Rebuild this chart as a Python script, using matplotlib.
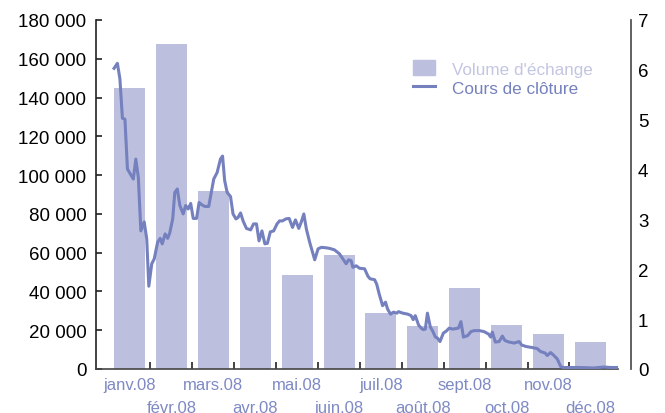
import matplotlib
matplotlib.use('Agg')
import matplotlib.pyplot as plt
import matplotlib.patches as mpatches
from matplotlib.lines import Line2D

# Donnees
mois = ['janv.08', 'févr.08', 'mars.08', 'avr.08', 'mai.08', 'juin.08',
        'juil.08', 'août.08', 'sept.08', 'oct.08', 'nov.08', 'déc.08']
volume = [145000, 167500, 92000, 63000, 48500, 59000,
          29000, 22000, 42000, 22500, 18000, 14000]

# position en mois (0 = milieu de janvier) et cours de cloture
cours_x = [-0.37, -0.29, -0.23, -0.17, -0.11, -0.05, 0.09, 0.15, 0.21, 0.27,
           0.35, 0.41, 0.46, 0.53, 0.59, 0.67, 0.73, 0.78, 0.85, 0.91,
           0.96, 1.03, 1.08, 1.14, 1.20, 1.28, 1.34, 1.40, 1.46, 1.52,
           1.60, 1.66, 1.73, 1.80, 1.89, 2.01, 2.09, 2.17, 2.22, 2.27,
           2.33, 2.41, 2.47, 2.54, 2.59, 2.65, 2.71, 2.79, 2.89, 2.96,
           3.03, 3.09, 3.16, 3.23, 3.29, 3.36, 3.44, 3.52, 3.58, 3.65,
           3.73, 3.81, 3.89, 3.96, 4.04, 4.10, 4.16, 4.22, 4.30, 4.42,
           4.50, 4.58, 4.70, 4.77, 4.89, 5.01, 5.09, 5.17, 5.23, 5.29,
           5.33, 5.41, 5.49, 5.61, 5.69, 5.74, 5.85, 5.90, 5.96, 6.04,
           6.11, 6.16, 6.23, 6.30, 6.38, 6.42, 6.52, 6.64, 6.72, 6.77,
           6.82, 6.90, 6.96, 7.01, 7.06, 7.11, 7.18, 7.23, 7.30, 7.35,
           7.41, 7.49, 7.56, 7.63, 7.71, 7.85, 7.91, 7.97, 8.07, 8.15,
           8.23, 8.35, 8.46, 8.57, 8.62, 8.66, 8.73, 8.82, 8.90, 8.96,
           9.06, 9.18, 9.30, 9.36, 9.47, 9.61, 9.73, 9.81, 9.92, 9.97,
           10.05, 10.13, 10.21, 10.29, 10.35, 10.73, 11.08, 11.32, 11.49, 11.64]
cours = [6.03, 6.13, 5.82, 5.03, 5.01, 4.01, 3.81, 4.21, 3.84, 2.77,
         2.95, 2.61, 1.66, 2.11, 2.21, 2.54, 2.62, 2.51, 2.71, 2.62,
         2.73, 3.01, 3.54, 3.61, 3.28, 3.11, 3.28, 3.21, 3.32, 3.02,
         3.02, 3.34, 3.29, 3.26, 3.26, 3.81, 3.94, 4.21, 4.27, 3.78,
         3.54, 3.46, 3.11, 3.01, 3.04, 3.13, 2.97, 2.82, 2.79, 2.91,
         2.91, 2.57, 2.77, 2.51, 2.52, 2.75, 2.77, 2.91, 2.97, 2.97,
         3.01, 3.02, 2.84, 2.99, 2.82, 2.95, 3.11, 2.81, 2.54, 2.19,
         2.41, 2.44, 2.43, 2.42, 2.39, 2.31, 2.21, 2.11, 2.19, 2.17,
         2.04, 2.07, 2.02, 2.01, 1.86, 1.81, 1.79, 1.70, 1.50, 1.27,
         1.34, 1.20, 1.10, 1.14, 1.12, 1.15, 1.12, 1.10, 1.07, 0.99,
         1.07, 0.88, 0.82, 0.79, 0.80, 1.12, 0.84, 0.77, 0.64, 0.62,
         0.55, 0.72, 0.76, 0.82, 0.80, 0.82, 0.95, 0.64, 0.67, 0.75,
         0.77, 0.77, 0.75, 0.70, 0.64, 0.74, 0.54, 0.55, 0.66, 0.57,
         0.54, 0.52, 0.55, 0.48, 0.45, 0.43, 0.41, 0.35, 0.32, 0.27,
         0.33, 0.27, 0.20, 0.05, 0.03, 0.03, 0.02, 0.04, 0.03, 0.03]

couleur_barre = '#bcc0de'
couleur_ligne = '#7580be'
couleur_mois = '#7f89c4'

plt.rcParams['font.family'] = ['Liberation Sans', 'DejaVu Sans']

fig = plt.figure(figsize=(6.65, 4.14), dpi=100)
ax = fig.add_axes([0.1444, 0.1063, 0.785, 0.843])

pos = list(range(len(mois)))
ax.bar(pos, volume, width=0.74, color=couleur_barre, zorder=1)

ax.set_xlim(-0.8, 11.66)
ax.set_ylim(0, 180000)
ax.set_yticks(range(0, 180001, 20000))
ax.set_yticklabels(['{:,}'.format(v).replace(',', ' ') for v in range(0, 180001, 20000)])
ax.tick_params(axis='y', direction='in', length=4, width=1.2, pad=7,
               labelsize=13.5, color='#222222')

# etiquettes des mois sur deux rangs : rang du haut (mois pairs)
ax.set_xticks(pos[0::2])
ax.set_xticklabels(mois[0::2])
ax.tick_params(axis='x', which='major', length=0, pad=5.5, labelsize=12,
               labelcolor=couleur_mois)
ax.set_xticks([i + 0.5 for i in range(11)], minor=True)
ax.tick_params(axis='x', which='minor', direction='in', length=5, width=1.2,
               color='#222222')

# rang du bas (mois impairs)
ax_bas = ax.secondary_xaxis('bottom')
ax_bas.set_xticks(pos[1::2])
ax_bas.set_xticklabels(mois[1::2])
ax_bas.tick_params(axis='x', length=0, pad=22, labelsize=12, labelcolor=couleur_mois)
ax_bas.spines['bottom'].set_visible(False)

for s in ['top', 'right']:
    ax.spines[s].set_visible(False)
ax.spines['left'].set_color('#222222')
ax.spines['bottom'].set_color('#444444')
ax.spines['left'].set_linewidth(1.2)
ax.spines['bottom'].set_linewidth(1.2)

ax2 = ax.twinx()
ax2.plot(cours_x, cours, color=couleur_ligne, linewidth=2.2, zorder=3)
ax2.set_ylim(0, 7)
ax2.set_yticks(range(0, 8))
ax2.tick_params(axis='y', length=0, pad=5, labelsize=13.5)
for s in ['top', 'left', 'bottom']:
    ax2.spines[s].set_visible(False)
ax2.spines['right'].set_position(('outward', 9.4))
ax2.spines['right'].set_color('#555555')
ax2.spines['right'].set_linewidth(1.3)

poignees = [mpatches.Patch(color=couleur_barre, label="Volume d'échange"),
            Line2D([0], [0], color=couleur_ligne, linewidth=2.2, label='Cours de clôture')]
leg = ax2.legend(handles=poignees, loc='upper left', bbox_to_anchor=(0.607, 0.885),
                 frameon=False, fontsize=12.3, handlelength=1.3, handleheight=1.0,
                 handletextpad=1.0, labelspacing=0.15, borderpad=0, borderaxespad=0)
leg.get_texts()[0].set_color('#c3c6e3')
leg.get_texts()[1].set_color(couleur_ligne)

plt.savefig('out.png', dpi=100)
plt.close()
